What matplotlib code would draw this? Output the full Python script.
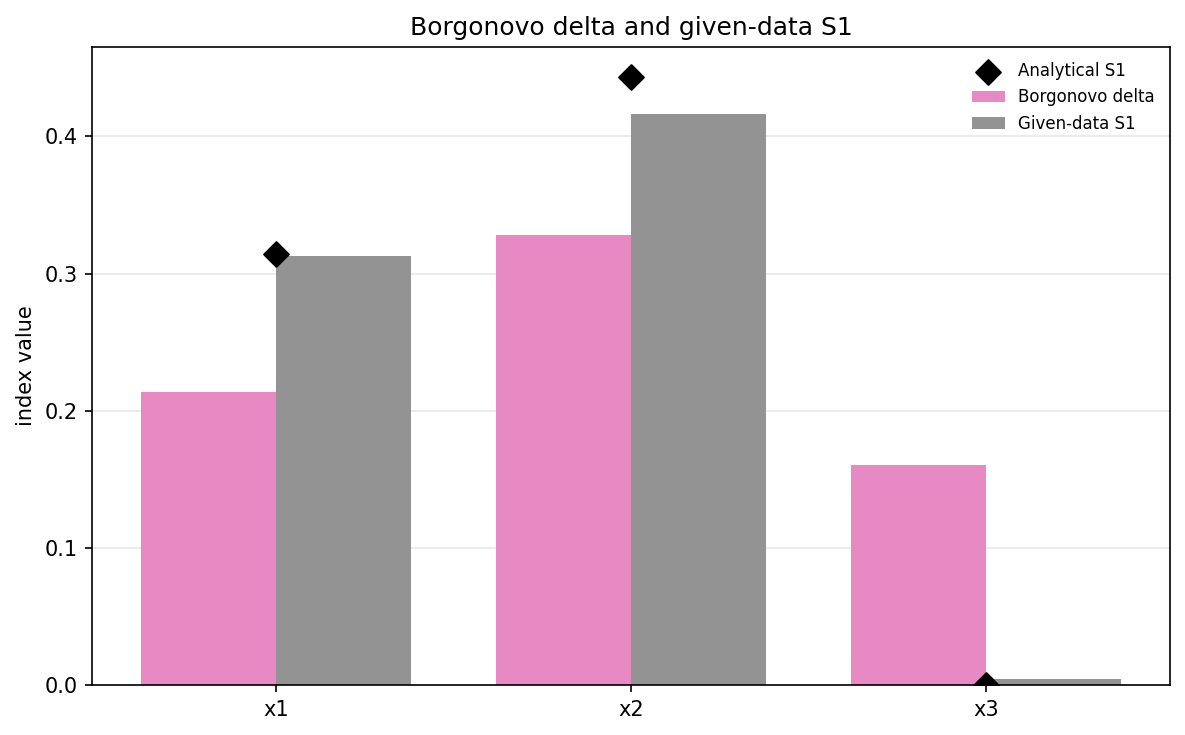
import numpy as np
import matplotlib.pyplot as plt

params = ["x1", "x2", "x3"]
delta = [0.2135, 0.3278, 0.1603]
given_s1 = [0.3126, 0.4160, 0.0044]
analytical_s1 = [0.3140, 0.4430, 0.0]

x = np.arange(len(params))
w = 0.38

fig, ax = plt.subplots(figsize=(7.9, 4.9), dpi=150)
ax.bar(x - w / 2, delta, w, color="#e78ac3", label="Borgonovo delta")
ax.bar(x + w / 2, given_s1, w, color="#939393", label="Given-data S1")
ax.scatter(x, analytical_s1, marker="D", s=70, color="black", zorder=3, label="Analytical S1")
ax.set_xticks(x)
ax.set_xticklabels(params)
ax.set_ylabel("index value")
ax.set_title("Borgonovo delta and given-data S1")
ax.grid(axis="y", alpha=0.3)
ax.set_axisbelow(True)
ax.legend(frameon=False, fontsize=8)
fig.subplots_adjust(left=0.0776, right=0.9873, top=0.936, bottom=0.068)
fig.savefig("out.png")
